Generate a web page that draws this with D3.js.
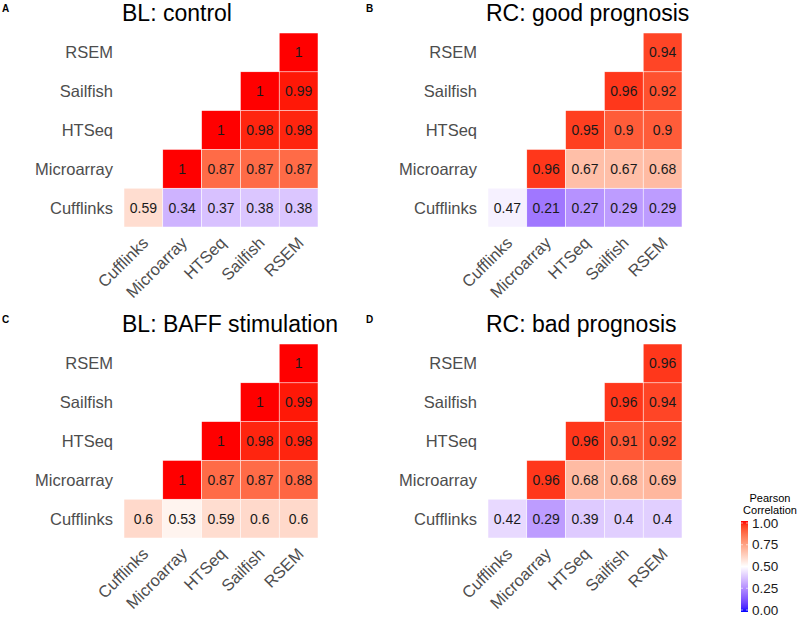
<!DOCTYPE html>
<html><head><meta charset="utf-8">
<script src="https://cdn.jsdelivr.net/npm/d3@7"></script>
<style>body{margin:0;background:#fff}svg{display:block;font-family:"Liberation Sans",Arial,Helvetica,sans-serif}</style>
</head><body><svg id="c" width="800" height="618"></svg>
<script>
const methods = ["Cufflinks","Microarray","HTSeq","Sailfish","RSEM"];
const panelLetters = ["A","B","C","D"];
const panelTitles = ["BL: control","RC: good prognosis","BL: BAFF stimulation","RC: bad prognosis"];
// each row: values for columns from the row's own method up to RSEM
const valuesA = [[0.59,0.34,0.37,0.38,0.38],[1,0.87,0.87,0.87],[1,0.98,0.98],[1,0.99],[1]];
const valuesB = [[0.47,0.21,0.27,0.29,0.29],[0.96,0.67,0.67,0.68],[0.95,0.9,0.9],[0.96,0.92],[0.94]];
const valuesC = [[0.6,0.53,0.59,0.6,0.6],[1,0.87,0.87,0.88],[1,0.98,0.98],[1,0.99],[1]];
const valuesD = [[0.42,0.29,0.39,0.4,0.4],[0.96,0.68,0.68,0.69],[0.96,0.91,0.92],[0.96,0.94],[0.96]];
const legendTicks = [0,0.25,0.5,0.75,1];
const legendTitle = ["Pearson","Correlation"];

const svg = d3.select("#c");
const color = d3.scaleLinear().domain([0,0.5,1]).range(["#0000ff","#ffffff","#ff0000"]).interpolate(d3.interpolateLab);
const allValues = [valuesA,valuesB,valuesC,valuesD];
const origins = [[0,0],[364,0],[0,311],[364,311]];

allValues.forEach((vals,p)=>{
  const [ox,oy] = origins[p];
  const g = svg.append("g").attr("transform",`translate(${ox},${oy})`);
  const x = d3.scaleBand().domain(methods).range([124,318]);
  const y = d3.scaleBand().domain(methods.slice().reverse()).range([33,227]);
  const cells = [];
  vals.forEach((row,r)=>row.forEach((v,k)=>cells.push({row:methods[r],col:methods[r+k],v})));
  g.selectAll("rect.t").data(cells).join("rect")
    .attr("x",d=>x(d.col)).attr("y",d=>y(d.row))
    .attr("width",x.bandwidth()).attr("height",y.bandwidth())
    .attr("fill",d=>color(d.v)).attr("stroke","#fff").attr("stroke-width",0.5);
  g.selectAll("text.v").data(cells).join("text")
    .attr("x",d=>x(d.col)+x.bandwidth()/2).attr("y",d=>y(d.row)+y.bandwidth()/2)
    .attr("text-anchor","middle").attr("dominant-baseline","central")
    .attr("font-size",14).attr("fill","#1a1a1a").text(d=>String(d.v));
  // y labels
  g.selectAll("text.yl").data(methods).join("text")
    .attr("x",113).attr("y",d=>y(d)+y.bandwidth()/2)
    .attr("text-anchor","end").attr("dominant-baseline","central")
    .attr("font-size",16.5).attr("fill","#4d4d4d").text(d=>d);
  // x labels
  g.selectAll("text.xl").data(methods).join("text")
    .attr("transform",d=>`translate(${x(d)+x.bandwidth()/2+6},244) rotate(-45)`)
    .attr("text-anchor","end")
    .attr("font-size",16.5).attr("fill","#4d4d4d").text(d=>d);
  g.append("text").attr("x",122).attr("y",21).attr("font-size",23).attr("fill","#000").text(panelTitles[p]);
  g.append("text").attr("x",2).attr("y",12).attr("font-size",10).attr("font-weight","bold").attr("fill","#000").text(panelLetters[p]);
});

// legend
const ly = d3.scaleLinear().domain([0,1]).range([610,523]);
const defs = svg.append("defs");
const grad = defs.append("linearGradient").attr("id","lg").attr("x1",0).attr("y1",1).attr("x2",0).attr("y2",0);
d3.range(0,1.0001,0.05).forEach(t=>grad.append("stop").attr("offset",t).attr("stop-color",color(t)));
svg.append("rect").attr("x",741).attr("y",ly(1)-2).attr("width",7).attr("height",ly(0)-ly(1)+4).attr("fill","url(#lg)");
legendTicks.forEach(t=>{
  svg.append("line").attr("x1",741).attr("x2",743).attr("y1",ly(t)).attr("y2",ly(t)).attr("stroke","#fff").attr("stroke-width",0.6);
  svg.append("line").attr("x1",746).attr("x2",748).attr("y1",ly(t)).attr("y2",ly(t)).attr("stroke","#fff").attr("stroke-width",0.6);
});
svg.selectAll("text.lt").data(legendTicks).join("text")
  .attr("x",752).attr("y",d=>ly(d)).attr("dominant-baseline","central")
  .attr("font-size",13.5).attr("fill","#1a1a1a").text(d=>d3.format(".2f")(d));
svg.selectAll("text.ltt").data(legendTitle).join("text")
  .attr("x",770).attr("y",(d,i)=>502+i*11.5).attr("text-anchor","middle")
  .attr("font-size",11).attr("fill","#000").text(d=>d);
</script></body></html>
